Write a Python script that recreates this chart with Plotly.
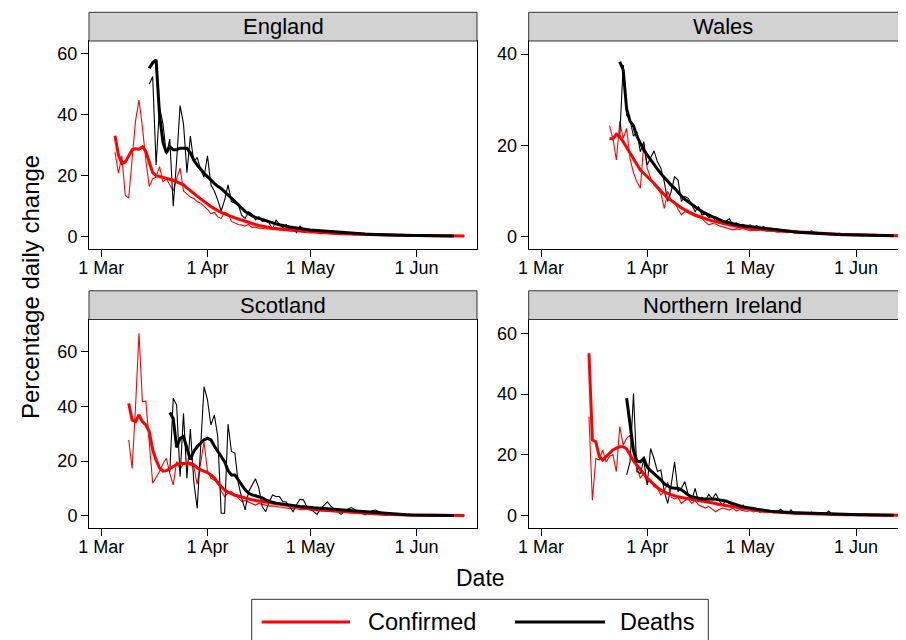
import pandas as pd
import plotly.graph_objects as go

# ---------------- data (percentage daily change, 2020) ----------------
england_conf_start = "2020-03-05"
england_conf_raw = [27.7, 20.8, 26.5, 13.5, 12.7, 26, 38, 44.8, 36, 25,
                    16.5, 19, 19.5, 23, 18, 19, 17, 15, 19, 22.5,
                    15, 14, 13, 12.5, 11.5, 11, 10, 9, 7.5, 8,
                    6.5, 6, 8, 7.5, 5, 4.5, 4, 3.8, 3.5, 4,
                    3, 3.2, 2.8, 2.7, 2.6, 2.5, 2.2, 2.3, 2, 2.1,
                    1.8, 1.9, 1.7, 1.5, 1.6, 1.4, 1.3, 1.2, 1.3, 1.1,
                    1.0, 1.1, 0.9, 0.9, 1.0, 0.8, 0.8, 0.7, 0.8, 0.7,
                    0.6, 0.7, 0.6, 0.6, 0.5, 0.6, 0.5, 0.5, 0.5, 0.4,
                    0.5, 0.4, 0.4, 0.4, 0.4, 0.3, 0.4, 0.3, 0.3, 0.3,
                    0.3, 0.3, 0.3, 0.3, 0.2, 0.3, 0.2, 0.2, 0.2, 0.2,
                    0.2, 0.2, 0.2]
england_conf_smooth = [33.1, 26.8, 24, 24.5, 26.5, 28.5, 28.8, 28.7, 29.5, 28,
                       24.5, 21, 20, 19.7, 19.4, 19.2, 19, 18.5, 18, 17.5,
                       17, 16, 15, 14.2, 13.3, 12.4, 11.5, 10.7, 9.9, 9.2,
                       8.5, 8, 7.5, 7, 6.6, 6.2, 5.8, 5.4, 5, 4.6,
                       4.3, 4, 3.7, 3.4, 3.2, 3, 2.8, 2.7, 2.6, 2.5,
                       2.4, 2.3, 2.2, 2.1, 2.0, 1.9, 1.8, 1.7, 1.6, 1.5,
                       1.4, 1.3, 1.25, 1.2, 1.1, 1.05, 1.0, 0.95, 0.9, 0.85,
                       0.8, 0.75, 0.7, 0.68, 0.65, 0.6, 0.58, 0.55, 0.52, 0.5,
                       0.48, 0.46, 0.44, 0.42, 0.4, 0.38, 0.36, 0.35, 0.34, 0.33,
                       0.32, 0.31, 0.3, 0.29, 0.28, 0.27, 0.26, 0.25, 0.24, 0.23,
                       0.22, 0.21, 0.2]
england_death_start = "2020-03-15"
england_death_raw = [50, 52.5, 23.5, 42.5, 37, 27, 32, 10, 25, 43,
                     37, 21, 33, 24.5, 26, 22, 19.5, 26.5, 17, 15,
                     12, 8.5, 12, 17, 11.5, 11, 10.5, 7, 6, 8.2,
                     7.5, 5.5, 6.5, 5, 5.2, 4.5, 2.5, 5.5, 4, 3,
                     4, 2.5, 3, 1.3, 3.5, 2.5, 2, 2.3, 1.6, 2,
                     1.2, 1.8, 1.3, 1.5, 1.1, 1.2, 0.9, 1.4, 1, 0.9,
                     0.8, 1.1, 0.7, 0.7, 0.9, 0.6, 0.6, 0.5, 0.8, 0.5,
                     0.5, 0.6, 0.4, 0.4, 0.4, 0.5, 0.3, 0.4, 0.3, 0.3,
                     0.3, 0.4, 0.2, 0.3, 0.2, 0.2, 0.3, 0.2, 0.2, 0.2]
england_death_smooth = [55.2, 57, 58, 40, 31, 27.5, 29.5, 28.5, 28.5, 29,
                        29, 29, 27.5, 25.1, 23.5, 22, 20.8, 19.7, 18.5, 17.5,
                        16.5, 15.8, 14.8, 13.7, 12.5, 11.4, 10.4, 9.3, 8.3, 7.5,
                        6.8, 6.3, 6, 5.6, 5.2, 4.9, 4.5, 4.2, 3.9, 3.6,
                        3.4, 3.2, 3, 2.8, 2.7, 2.6, 2.4, 2.2, 2.1, 2,
                        1.9, 1.8, 1.7, 1.6, 1.5, 1.4, 1.3, 1.25, 1.2, 1.1,
                        1.0, 0.95, 0.9, 0.85, 0.8, 0.75, 0.7, 0.66, 0.62, 0.58,
                        0.55, 0.52, 0.5, 0.47, 0.45, 0.43, 0.41, 0.39, 0.37, 0.35,
                        0.33, 0.31, 0.3, 0.28, 0.27, 0.26, 0.25, 0.24, 0.23, 0.22]

wales_conf_start = "2020-03-21"
wales_conf_raw = [24.3, 21.5, 16.8, 25.2, 21.5, 23.7, 17.1, 14, 12, 10.6,
                  20.2, 15, 12.8, 11.3, 10.5, 9.5, 6.2, 9.9, 8, 7.7,
                  6, 4.8, 5.5, 5.2, 4.8, 4.4, 4.2, 4, 3.2, 2.6,
                  2.9, 2.8, 2.4, 2.2, 2, 1.8, 1.5, 1.7, 1.6, 1.8,
                  1.5, 1.3, 1.4, 1.3, 1.5, 1.4, 1.2, 1.3, 1.1, 1.0,
                  1.1, 1.0, 0.9, 1.0, 0.8, 0.9, 0.8, 0.7, 0.9, 1.3,
                  0.8, 0.7, 0.6, 0.7, 0.6, 0.5, 0.6, 0.5, 0.5, 0.4,
                  0.5, 0.4, 0.4, 0.3, 0.4, 0.3, 0.3, 0.3, 0.3, 0.2,
                  0.3, 0.2, 0.2, 0.2, 0.2, 0.2]
wales_conf_smooth = [21.5, 21.4, 22.4, 21.9, 20.8, 19.5, 18.2, 17, 15.7, 14.6,
                     13.9, 13.2, 12.6, 11.7, 10.8, 9.9, 9.2, 8.5, 7.9, 7.3,
                     6.8, 6.3, 5.9, 5.5, 5.1, 4.8, 4.5, 4.2, 4, 3.7,
                     3.5, 3.3, 3.1, 2.9, 2.7, 2.6, 2.4, 2.3, 2.1, 2.0,
                     1.9, 1.8, 1.7, 1.6, 1.55, 1.5, 1.45, 1.4, 1.35, 1.3,
                     1.25, 1.2, 1.15, 1.1, 1.05, 1.0, 0.98, 0.95, 0.92, 0.9,
                     0.85, 0.8, 0.75, 0.7, 0.65, 0.6, 0.57, 0.54, 0.5, 0.47,
                     0.45, 0.42, 0.4, 0.38, 0.36, 0.34, 0.32, 0.3, 0.28, 0.27,
                     0.26, 0.25, 0.24, 0.23, 0.22, 0.21]
wales_death_start = "2020-03-24"
wales_death_raw = [22, 37.6, 26.6, 25.5, 22, 23, 18.6, 20.8, 15.7, 17.2,
                   18.8, 16.4, 15, 12, 7.7, 9.9, 13.1, 12.4, 7.7, 8.8,
                   8.4, 7, 5.5, 6.6, 4.75, 5, 4.2, 4.5, 3.5, 3.8,
                   3.2, 3.4, 3.9, 2.6, 3, 2.5, 2.7, 2.2, 2.6, 2.0,
                   2.4, 1.8, 2.2, 1.6, 1.9, 1.4, 1.7, 1.3, 1.5, 1.1,
                   1.3, 1.0, 1.2, 0.9, 1.0, 0.8, 1.0, 0.7, 0.8, 0.6,
                   0.7, 0.6, 0.6, 0.5, 0.8, 0.5, 0.4, 0.5, 0.4, 0.4,
                   0.3, 0.4, 0.3, 0.3, 0.3, 0.2, 0.3, 0.2, 0.2, 0.2, 0.2]
wales_death_smooth = [38.3, 36.5, 28, 25.3, 24.3, 22, 20.5, 19, 17.9, 16.8,
                      15.8, 14.8, 13.8, 12.9, 12.1, 11.3, 10.6, 9.7, 8.9, 8.2,
                      7.6, 7, 6.5, 6, 5.5, 5.1, 4.7, 4.4, 4.1, 3.7,
                      3.4, 3.2, 3, 2.8, 2.6, 2.5, 2.4, 2.3, 2.2, 2.1,
                      2.0, 2.0, 1.9, 1.7, 1.6, 1.5, 1.4, 1.3, 1.2, 1.1,
                      1.05, 1.0, 0.95, 0.9, 0.85, 0.8, 0.75, 0.7, 0.66, 0.62,
                      0.58, 0.55, 0.52, 0.49, 0.46, 0.44, 0.42, 0.4, 0.38, 0.36,
                      0.34, 0.32, 0.3, 0.29, 0.28, 0.27, 0.26, 0.25, 0.24, 0.23, 0.22]

scotland_conf_start = "2020-03-09"
scotland_conf_raw = [27.7, 17.3, 40, 66.8, 41.7, 42, 27, 11.9, 14, 16.2,
                     19, 21, 15.5, 11.3, 19.8, 17, 19.2, 19, 18.5, 18,
                     11.5, 19, 27, 16.2, 13.7, 13, 12.5, 9, 7, 8.2,
                     8.8, 7.6, 6.5, 5.2, 5.5, 5, 4.5, 3.9, 4.5, 4.2,
                     3.8, 3.5, 3.6, 3.3, 3.2, 3, 2.8, 2.6, 2.7, 2.4,
                     2.3, 2.2, 2.4, 2.1, 2.0, 1.9, 1.8, 1.8, 1.6, 1.5,
                     1.5, 1.4, 1.3, 1.3, 1.2, 1.1, 1.0, 0.9, 0.8, 0.7,
                     0.7, 0.6, 0.5, 0.5, 0.4, 0.4, 0.3, 0.3, 0.3, 0.2,
                     0.2, 0.2, 0.2, 0.2, 0.1, 0.1, 0.1, 0.1, 0.1, 0.1,
                     0.1, 0.1, 0.1, 0.1, 0.1, 0.1, 0.1, 0.1, 0.1]
scotland_conf_smooth = [41.1, 35, 34.4, 36.9, 34.4, 33.2, 30.8, 24.1, 20.4, 17.5,
                        16.3, 16.5, 17.2, 18, 18.8, 19.1, 19.2, 19.2, 19.2, 18.6,
                        17.5, 16.8, 16.3, 15.8, 14.9, 13.9, 12, 10.5, 9.4, 8.6,
                        8, 7.5, 7.2, 6.8, 6.4, 6.1, 5.8, 5.6, 5.4, 5.2,
                        5, 4.8, 4.6, 4.4, 4.1, 3.9, 3.7, 3.5, 3.3, 3.1,
                        2.9, 2.7, 2.6, 2.4, 2.3, 2.2, 2.1, 2.0, 1.9, 1.8,
                        1.7, 1.6, 1.55, 1.5, 1.4, 1.3, 1.2, 1.1, 1.0, 0.9,
                        0.8, 0.7, 0.6, 0.55, 0.5, 0.45, 0.4, 0.35, 0.3, 0.28,
                        0.26, 0.24, 0.22, 0.2, 0.18, 0.16, 0.15, 0.14, 0.13, 0.12,
                        0.11, 0.1, 0.1, 0.1, 0.1, 0.1, 0.1, 0.1, 0.1]
scotland_death_start = "2020-03-21"
scotland_death_raw = [16, 43, 40.5, 14.3, 37.5, 13.7, 31.7, 12.5, 2.7, 25,
                      47.2, 42.4, 33.2, 36.9, 29, 0.9, 0.9, 33.5, 23.5, 22.9,
                      11.9, 6.4, 2.1, 8.8, 11, 13.5, 10.1, 3.3, 1.5, 5,
                      7.6, 7, 7, 5.2, 5, 3, 1.5, 4, 6, 5.8,
                      3.3, 2.5, 1.5, 0.5, 2.5, 4, 5.1, 3.5, 2.5, 1.5,
                      0.5, 1.5, 2.5, 3, 2.2, 1.5, 1, 0.3, 1, 1.8,
                      2.1, 1.5, 1, 0.6, 0.4, 0.5, 0.7, 0.6, 0.5, 0.4,
                      0.3, 0.3, 0.4, 0.3, 0.3, 0.2, 0.2, 0.3, 0.2, 0.2,
                      0.2, 0.1, 0.2, 0.1]
scotland_death_smooth = [37.8, 35.6, 25, 28.3, 29, 24.5, 20.5, 23.5, 25.3, 26.5,
                         27.8, 28.3, 27.8, 25.5, 23.5, 21.5, 19.8, 16.5, 14.9, 14.9,
                         13, 11.3, 9.5, 8.3, 7.6, 7.3, 7, 6.5, 5.8, 5.2,
                         4.9, 4.6, 4.4, 4.2, 4, 3.9, 3.8, 3.6, 3.4, 3.3,
                         3.1, 3.0, 2.9, 2.8, 2.7, 2.6, 2.5, 2.4, 2.3, 2.2,
                         2.1, 2.0, 1.9, 1.8, 1.7, 1.6, 1.5, 1.4, 1.3, 1.2,
                         1.1, 0.9, 0.8, 0.7, 0.6, 0.5, 0.5, 0.4, 0.4, 0.35,
                         0.3, 0.3, 0.25, 0.25, 0.2, 0.2, 0.2, 0.15, 0.15, 0.15,
                         0.1, 0.1, 0.1, 0.1]

ni_conf_start = "2020-03-15"
ni_conf_raw = [32.5, 5.1, 18.8, 18.3, 21.6, 17.7, 19.5, 20, 14.5, 29.3,
               23.2, 25.4, 26.5, 20, 16, 12.3, 14, 10.6, 12, 9.5,
               9, 6.8, 8, 11, 6, 5.5, 6, 4, 5, 5.5,
               4, 5, 3.5, 3, 2.5, 3, 2, 1.3, 2, 2.5,
               2.2, 1.8, 2.5, 1.5, 2, 1.6, 1.4, 1.7, 1.2, 1.5,
               1.1, 1.3, 1.0, 1.2, 0.9, 1.1, 0.8, 0.9, 0.7, 0.8,
               0.7, 0.6, 0.7, 0.5, 0.6, 0.5, 0.5, 0.4, 0.5, 0.4,
               0.4, 0.3, 0.4, 0.3, 0.3, 0.3, 0.3, 0.2, 0.3, 0.2,
               0.2, 0.2, 0.2, 0.2, 0.2, 0.2, 0.1, 0.2, 0.1, 0.1, 0.1, 0.1]
ni_conf_smooth = [53.4, 24.9, 24.3, 19.5, 18.3, 19.5, 20.5, 21.6, 22.2, 22.7,
                  22.7, 22, 20, 18, 16.6, 15, 13.8, 12.3, 11.2, 10.1,
                  9.2, 8.4, 7.8, 7.3, 6.9, 6.5, 6.2, 6, 5.8, 5.7,
                  5.4, 5.2, 5.1, 4.9, 4.7, 4.6, 4.3, 4, 3.7, 3.5,
                  3.2, 3, 2.8, 2.6, 2.5, 2.4, 2.3, 2.2, 2, 1.8,
                  1.6, 1.5, 1.4, 1.3, 1.2, 1.1, 1.0, 0.95, 0.9, 0.85,
                  0.8, 0.75, 0.7, 0.65, 0.6, 0.56, 0.52, 0.48, 0.45, 0.42,
                  0.4, 0.38, 0.36, 0.34, 0.32, 0.3, 0.28, 0.26, 0.25, 0.24,
                  0.23, 0.22, 0.21, 0.2, 0.19, 0.18, 0.17, 0.16, 0.15, 0.15, 0.14, 0.14]
ni_death_start = "2020-03-26"
ni_death_raw = [13.4, 17.7, 40.2, 14.5, 13.9, 18.3, 10.1, 22.1, 18.8, 14.5,
                15, 7.9, 4, 10, 17.7, 7.9, 9, 11.2, 6.8, 5,
                9, 4.5, 6, 5, 7, 5.5, 7.3, 5, 3.5, 5,
                4, 3.5, 3, 2.5, 3.5, 2, 2.5, 1.8, 2.3, 1.5,
                1.8, 1.2, 1.5, 1.0, 1.4, 2.1, 1.0, 0.7, 1.9, 0.6,
                0.8, 0.5, 0.6, 0.6, 1.2, 0.5, 0.4, 0.4, 0.5, 1.5,
                0.4, 0.3, 0.3, 0.4, 0.3, 0.3, 0.2, 0.3, 0.2, 0.2,
                0.2, 0.2, 0.1, 0.2, 0.1, 0.1, 0.1, 0.1, 0.1]
ni_death_smooth = [38.6, 30, 21.6, 18, 17.7, 18.8, 16, 14.8, 13.9, 12.8,
                   11.8, 10.5, 9.8, 9.2, 9, 9, 8.5, 7.5, 6.8, 6.2,
                   5.9, 5.6, 5.5, 5.5, 5.5, 5.5, 5.4, 5.2, 5.1, 4.8,
                   4.4, 4, 3.5, 3.1, 2.9, 2.7, 2.6, 2.4, 2.1, 1.9,
                   1.8, 1.6, 1.5, 1.4, 1.3, 1.2, 1.15, 1.1, 1.05, 1.0,
                   0.95, 0.9, 0.85, 0.8, 0.75, 0.7, 0.65, 0.6, 0.56, 0.52,
                   0.48, 0.45, 0.42, 0.4, 0.37, 0.35, 0.33, 0.31, 0.29, 0.27,
                   0.25, 0.23, 0.22, 0.2, 0.19, 0.18, 0.17, 0.16, 0.15]

panel_names = ["England", "Wales", "Scotland", "Northern Ireland"]
x_tick_dates = ["2020-03-01", "2020-04-01", "2020-05-01", "2020-06-01"]
x_tick_labels = ["1 Mar", "1 Apr", "1 May", "1 Jun"]
y_ticks_england = [0, 20, 40, 60]
y_ticks_wales = [0, 20, 40]
y_ticks_scotland = [0, 20, 40, 60]
y_ticks_ni = [0, 20, 40, 60]
legend_labels = ["Confirmed", "Deaths"]

# ---------------- styling / layout ----------------
# The page body has an 8px margin, so the figure is drawn 8px in from the
# top-left corner; all positions below are given in screen pixels and shifted.
OFF = 8
W, H = 906 - OFF, 640 - OFF
FONT = "Liberation Sans, Arial, Helvetica, sans-serif"
RED = "#ff0000"
BLACK = "#000000"
THIN, THICK = 1.1, 3.0
PX_PER_DAY = 3.425
ORIGIN = pd.Timestamp("2020-03-01")


def dates(start, values):
    return pd.date_range(start, periods=len(values), freq="D").strftime("%Y-%m-%d").tolist()


def fx(p):
    return (p - OFF) / W


def fy(p):
    return 1 - (p - OFF) / H


col_px = [(89.0, 477.0), (528.7, 906.0)]
row_plot_px = [(41.0, 249.3), (319.5, 528.0)]
row_strip_px = [(12.3, 41.0), (290.8, 319.5)]
LEFT_PAD_DAYS = (101.3 - 89.0) / PX_PER_DAY

panels = [
    dict(name=panel_names[0], r=0, c=0, yr=[-4.13, 64.16], yt=y_ticks_england,
         conf=(england_conf_start, england_conf_raw, england_conf_smooth),
         death=(england_death_start, england_death_raw, england_death_smooth)),
    dict(name=panel_names[1], r=0, c=1, yr=[-2.76, 42.85], yt=y_ticks_wales,
         conf=(wales_conf_start, wales_conf_raw, wales_conf_smooth),
         death=(wales_death_start, wales_death_raw, wales_death_smooth)),
    dict(name=panel_names[2], r=1, c=0, yr=[-4.5, 71.8], yt=y_ticks_scotland,
         conf=(scotland_conf_start, scotland_conf_raw, scotland_conf_smooth),
         death=(scotland_death_start, scotland_death_raw, scotland_death_smooth)),
    dict(name=panel_names[3], r=1, c=1, yr=[-4.05, 64.5], yt=y_ticks_ni,
         conf=(ni_conf_start, ni_conf_raw, ni_conf_smooth),
         death=(ni_death_start, ni_death_raw, ni_death_smooth)),
]

fig = go.Figure()
layout = dict(
    width=W, height=H,
    margin=dict(l=0, r=0, t=0, b=0),
    paper_bgcolor="white", plot_bgcolor="white",
    showlegend=False,
    font=dict(family=FONT, color="black"),
)
shapes, annotations = [], []

for i, p in enumerate(panels):
    k = "" if i == 0 else str(i + 1)
    xa, ya = "x" + k, "y" + k
    x0p, x1p = col_px[p["c"]]
    y0p, y1p = row_plot_px[p["r"]]
    s0p, s1p = row_strip_px[p["r"]]
    x_left = ORIGIN - pd.Timedelta(days=LEFT_PAD_DAYS)
    x_right = x_left + pd.Timedelta(days=(x1p - x0p) / PX_PER_DAY)

    cs, craw, csm = p["conf"]
    ds, draw_, dsm = p["death"]
    fig.add_trace(go.Scatter(x=dates(cs, craw), y=craw, mode="lines", xaxis=xa, yaxis=ya,
                             line=dict(color=RED, width=THIN), hoverinfo="skip"))
    fig.add_trace(go.Scatter(x=dates(ds, draw_), y=draw_, mode="lines", xaxis=xa, yaxis=ya,
                             line=dict(color=BLACK, width=THIN), hoverinfo="skip"))
    fig.add_trace(go.Scatter(x=dates(cs, csm), y=csm, mode="lines", xaxis=xa, yaxis=ya,
                             line=dict(color=RED, width=THICK), name=legend_labels[0]))
    fig.add_trace(go.Scatter(x=dates(ds, dsm), y=dsm, mode="lines", xaxis=xa, yaxis=ya,
                             line=dict(color=BLACK, width=THICK), name=legend_labels[1]))

    axis_common = dict(showline=True, linecolor="black", linewidth=1, mirror=True,
                       ticks="outside", ticklen=7, tickwidth=1, tickcolor="black",
                       showgrid=False, zeroline=False, automargin=False,
                       tickfont=dict(family=FONT, size=18, color="black"))
    layout["xaxis" + k] = dict(axis_common, domain=[fx(x0p), min(1.0, fx(x1p))], anchor=ya,
                               type="date", ticklabelstandoff=-5,
                               range=[x_left.strftime("%Y-%m-%d %H:%M"),
                                      (x_left + pd.Timedelta(days=(min(x1p, OFF + W) - x0p) / PX_PER_DAY)).strftime("%Y-%m-%d %H:%M")],
                               tickmode="array", tickvals=x_tick_dates, ticktext=x_tick_labels)
    layout["yaxis" + k] = dict(axis_common, domain=[fy(y1p), fy(y0p)], anchor=xa,
                               range=p["yr"], tickmode="array", tickvals=p["yt"],
                               ticktext=[str(v) for v in p["yt"]])

    shapes.append(dict(type="rect", xref="paper", yref="paper",
                       x0=fx(x0p), x1=min(1.0, fx(x1p)), y0=fy(s1p), y1=fy(s0p),
                       fillcolor="#d2d2d2", line=dict(color="#333333", width=1), layer="above"))
    full_right = x0p + 388.0
    annotations.append(dict(text=p["name"], xref="paper", yref="paper",
                            x=fx((x0p + full_right) / 2),
                            y=fy((s0p + s1p) / 2), xanchor="center", yanchor="middle",
                            showarrow=False, font=dict(family=FONT, size=22, color="black")))

# axis titles
annotations.append(dict(text="Percentage daily change", xref="paper", yref="paper",
                        x=fx(30), y=fy(287), textangle=-90, showarrow=False,
                        xanchor="center", yanchor="middle",
                        font=dict(family=FONT, size=24, color="black")))
annotations.append(dict(text="Date", xref="paper", yref="paper",
                        x=fx(480), y=fy(578), showarrow=False,
                        xanchor="center", yanchor="middle",
                        font=dict(family=FONT, size=23, color="black")))

# legend (drawn manually to match the long key lines)
shapes.append(dict(type="rect", xref="paper", yref="paper",
                   x0=fx(251.7), x1=fx(708.3), y0=fy(650), y1=fy(599.3),
                   fillcolor="white", line=dict(color="#333333", width=1)))
legend_items = [(RED, 261.7, 350.0, 366.0), (BLACK, 515.0, 605.0, 618.0)]
for (col, lx0, lx1, tx), lab in zip(legend_items, legend_labels):
    shapes.append(dict(type="line", xref="paper", yref="paper",
                       x0=fx(lx0), x1=fx(lx1), y0=fy(622), y1=fy(622),
                       line=dict(color=col, width=THICK)))
    annotations.append(dict(text=lab, xref="paper", yref="paper", x=fx(tx), y=fy(622),
                            xanchor="left", yanchor="middle", showarrow=False,
                            font=dict(family=FONT, size=23.5, color="black")))

layout["shapes"] = shapes
layout["annotations"] = annotations
fig.update_layout(**layout)
fig.write_html("out.html")
